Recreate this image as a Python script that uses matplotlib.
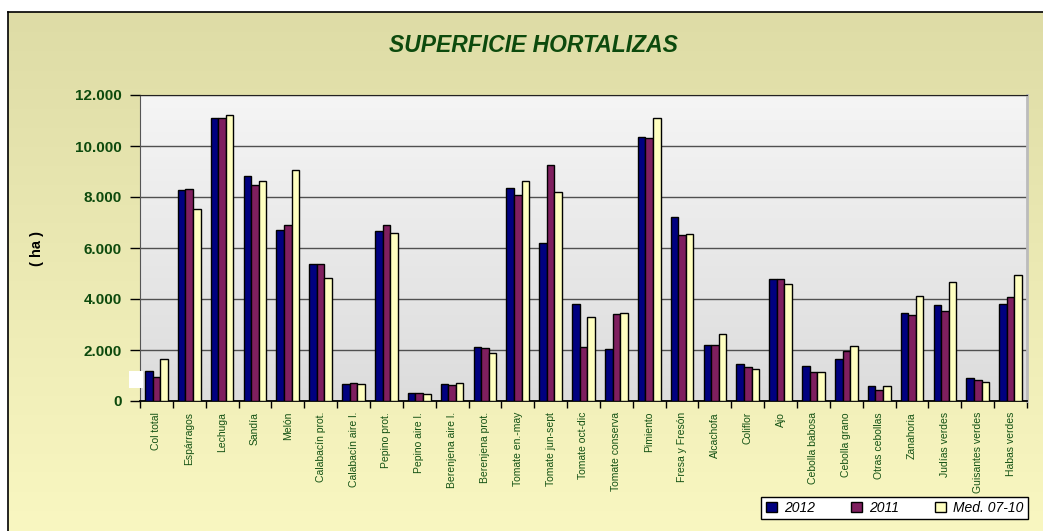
import numpy as np
import matplotlib
matplotlib.use("Agg")
import matplotlib.pyplot as plt
from matplotlib.patches import Patch, Rectangle
from matplotlib.colors import LinearSegmentedColormap
from matplotlib.ticker import FuncFormatter

plt.rcParams["font.family"] = ["Liberation Sans", "DejaVu Sans"]

# --- datos (ha) ---
cultivos = ["Col total", "Espárragos", "Lechuga", "Sandía", "Melón",
            "Calabacín prot.", "Calabacín aire l.", "Pepino prot.", "Pepino aire l.",
            "Berenjena aire l.", "Berenjena prot.", "Tomate en.-may", "Tomate jun-sept",
            "Tomate oct-dic", "Tomate conserva", "Pimiento", "Fresa y Fresón",
            "Alcachofa", "Coliflor", "Ajo", "Cebolla babosa", "Cebolla grano",
            "Otras cebollas", "Zanahoria", "Judías verdes", "Guisantes verdes",
            "Habas verdes"]
sup_2012 = [1180, 8260, 11100, 8840, 6720, 5390, 660, 6650, 300, 660, 2100, 8360,
            6200, 3815, 2045, 10340, 7220, 2200, 1440, 4785, 1380, 1630, 600,
            3450, 3760, 920, 3815]
sup_2011 = [945, 8330, 11080, 8480, 6900, 5380, 720, 6920, 315, 630, 2085, 8080,
            9260, 2110, 3410, 10330, 6500, 2200, 1320, 4770, 1155, 1965, 445,
            3370, 3540, 825, 4080]
sup_med = [1665, 7510, 11210, 8640, 9060, 4825, 655, 6580, 290, 695, 1900, 8640,
           8190, 3280, 3435, 11100, 6555, 2610, 1270, 4600, 1155, 2150, 600,
           4120, 4670, 760, 4940]
series = ["2012", "2011", "Med. 07-10"]
colores = ["#000080", "#7F1F5F", "#FFFFC0"]
yticks = [0, 2000, 4000, 6000, 8000, 10000, 12000]

VERDE = "#0D4A0D"
W, H = 1043, 531

fig = plt.figure(figsize=(W / 100, H / 100), dpi=100)
fig.patch.set_facecolor("white")

# fondo del grafico con degradado
bg = fig.add_axes([8 / W, 0, 1 - 8 / W, (H - 12) / H], zorder=-5)
cm_bg = LinearSegmentedColormap.from_list("bg", ["#F9F7C1", "#DEDCA6"])
bg.imshow(np.linspace(0, 1, 256).reshape(-1, 1), cmap=cm_bg, aspect="auto",
          origin="lower", extent=[0, 1, 0, 1])
bg.set_xlim(0, 1)
bg.set_ylim(0, 1)
bg.set_xticks([])
bg.set_yticks([])
for s in ["right", "bottom"]:
    bg.spines[s].set_visible(False)
bg.spines["top"].set_linewidth(1.2)
bg.spines["left"].set_linewidth(1.2)

ax = fig.add_axes([140 / W, (H - 401) / H, (1027 - 140) / W, (401 - 95) / H])
n = len(cultivos)
x = np.arange(n)

# area de trazado gris degradado
cm_pl = LinearSegmentedColormap.from_list("pl", ["#DCDCDC", "#F5F5F5"])
ax.imshow(np.linspace(0, 1, 256).reshape(-1, 1), cmap=cm_pl, aspect="auto",
          origin="lower", extent=[-0.5, n - 0.5, 0, 12000], zorder=0)

ancho = 0.23
for i, (vals, col, lab) in enumerate(zip([sup_2012, sup_2011, sup_med], colores, series)):
    ax.bar(x + (i - 1) * ancho, vals, ancho, color=col, edgecolor="black",
           linewidth=1.0, label=lab, zorder=3)

ax.set_xlim(-0.5, n - 0.5)
ax.set_ylim(0, 12000)
ax.set_yticks(yticks)
ax.yaxis.set_major_formatter(FuncFormatter(lambda v, p: f"{int(v):,}".replace(",", ".")))
ax.grid(axis="y", color="#505050", linewidth=1.0, zorder=1)
ax.tick_params(axis="y", direction="out", length=7, width=1, colors="black",
               labelcolor=VERDE, labelsize=11, pad=6)
for t in ax.get_yticklabels():
    t.set_fontweight("bold")

ax.set_xticks(x)
ax.set_xticklabels(cultivos, rotation=90, fontsize=7.5, color="#145214")
ax.set_xticks(np.arange(-0.5, n, 1), minor=True)
ax.tick_params(axis="x", which="major", length=0, pad=8)
ax.tick_params(axis="x", which="minor", direction="out", length=5, width=1)

ax.spines["top"].set_color("#222222")
ax.spines["right"].set_color("#BBBBBB")
ax.spines["right"].set_linewidth(2)
ax.spines["left"].set_color("#555555")
ax.spines["bottom"].set_linewidth(1.3)

ax.set_ylabel("( ha )", fontsize=10.5, fontweight="bold", labelpad=0)
ax.yaxis.set_label_coords(-96 / (1027 - 140), 0.5)

fig.text(533 / W, 1 - 45 / H, "SUPERFICIE HORTALIZAS", ha="center", va="center",
         fontsize=16.5, fontweight="bold", fontstyle="italic", color=VERDE)

# pequeño recuadro blanco junto al eje
fig.patches.append(Rectangle((129 / W, 1 - 388 / H), 14 / W, 17 / H,
                             transform=fig.transFigure, facecolor="white",
                             edgecolor="none", zorder=10))

handles = [Patch(facecolor=c, edgecolor="black", linewidth=1) for c in colores]
leg = fig.legend(handles, series, ncol=3, loc="center", bbox_to_anchor=(894.5 / W, 1 - 508 / H),
                 frameon=True, fancybox=False, edgecolor="black", framealpha=1,
                 handlelength=0.8, handleheight=0.8, handletextpad=0.5,
                 columnspacing=2.6, borderpad=0.3,
                 prop={"style": "italic", "size": 10})
leg.get_frame().set_linewidth(1)

fig.savefig("out.png", dpi=100)
